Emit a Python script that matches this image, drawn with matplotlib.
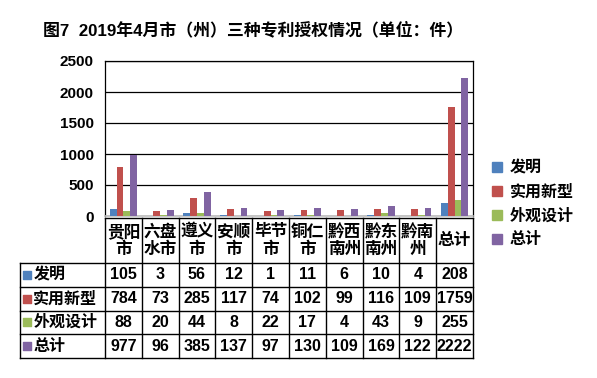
import matplotlib.pyplot as plt
from matplotlib.patches import Patch
import numpy as np

plt.rcParams['font.family'] = ['Liberation Sans', 'Noto Sans CJK SC', 'DejaVu Sans']
plt.rcParams['font.weight'] = 'bold'

# Data
categories = ["贵阳\n市", "六盘\n水市", "遵义\n市", "安顺\n市", "毕节\n市",
              "铜仁\n市", "黔西\n南州", "黔东\n南州", "黔南\n州", "总计"]
series_names = ["发明", "实用新型", "外观设计", "总计"]
invention = [105, 3, 56, 12, 1, 11, 6, 10, 4, 208]
utility = [784, 73, 285, 117, 74, 102, 99, 116, 109, 1759]
design = [88, 20, 44, 8, 22, 17, 4, 43, 9, 255]
total = [977, 96, 385, 137, 97, 130, 109, 169, 122, 2222]
series = [invention, utility, design, total]
colours = ["#4F81BD", "#C0504D", "#9BBB59", "#8064A2"]

W, H = 597, 378


def rect(x0, y0, x1, y1):
    # pixel box (from top-left) -> figure fraction
    return [x0 / W, 1 - y1 / H, (x1 - x0) / W, (y1 - y0) / H]


fig = plt.figure(figsize=(W / 100, H / 100), dpi=100)

fig.text(253 / W, 1 - 30 / H, "图7  2019年4月市（州）三种专利授权情况（单位：件）",
         ha="center", va="center", fontsize=12.2, fontweight="bold")

# Bar chart
ax = fig.add_axes(rect(105, 61, 473, 216))
x = np.arange(len(categories))
bw = 0.185
for i, (vals, c) in enumerate(zip(series, colours)):
    ax.bar(x + (i - 1.5) * bw, vals, bw, color=c, zorder=3)
ax.set_xlim(-0.5, len(categories) - 0.5)
ax.set_ylim(0, 2500)
ax.set_yticks(range(0, 2501, 500))
ax.set_xticks([])
ax.grid(axis="y", color="black", linewidth=0.9, zorder=0)
ax.tick_params(axis="y", length=0, pad=8, labelsize=11)
for lab in ax.get_yticklabels():
    lab.set_fontweight("bold")
for s in ["left", "top", "right"]:
    ax.spines[s].set_color("black")
    ax.spines[s].set_linewidth(0.9)
ax.spines["bottom"].set_color("#BFBFBF")
ax.spines["bottom"].set_linewidth(1.2)

# Data table
tab = fig.add_axes(rect(20, 218, 473, 358))
tab.axis("off")
col_px = (473 - 105) / len(categories)
lab_w = (105 - 20) / col_px
head_h = 45
row_h = (140 - head_h) / len(series)
left = -0.5 - lab_w
right = len(categories) - 0.5
tab.set_xlim(left, right)
tab.set_ylim(140, 0)
lk = dict(color="black", linewidth=1.0, clip_on=False)
tab.plot([-0.5, right], [0, 0], **lk)
for k in range(len(series) + 1):
    yy = head_h + k * row_h
    tab.plot([left, right], [yy, yy], **lk)
tab.plot([left, left], [head_h, 140], **lk)
for k in range(len(categories) + 1):
    tab.plot([k - 0.5, k - 0.5], [0, 140], **lk)
for i, cat in enumerate(categories):
    tab.text(i, head_h / 2, cat, ha="center", va="center", fontsize=12,
             fontweight="bold", linespacing=1.15)
for r, (name, vals, c) in enumerate(zip(series_names, series, colours)):
    yy = head_h + (r + 0.5) * row_h
    tab.scatter([left + 0.2], [yy], marker="s", s=30, color=c, clip_on=False)
    tab.text(left + 0.36, yy, name, ha="left", va="center", fontsize=11.5,
             fontweight="bold")
    for i, v in enumerate(vals):
        tab.text(i, yy, str(v), ha="center", va="center", fontsize=11.5,
                 fontweight="bold")

# Legend
handles = [Patch(color=c) for c in colours]
fig.legend(handles, series_names, loc="center left",
           bbox_to_anchor=(478 / W, 1 - 204 / H), frameon=False,
           prop=dict(size=11.5, weight="bold"), handlelength=0.6,
           handleheight=0.6, handletextpad=0.5, labelspacing=0.55)

fig.savefig("out.png", dpi=100)
